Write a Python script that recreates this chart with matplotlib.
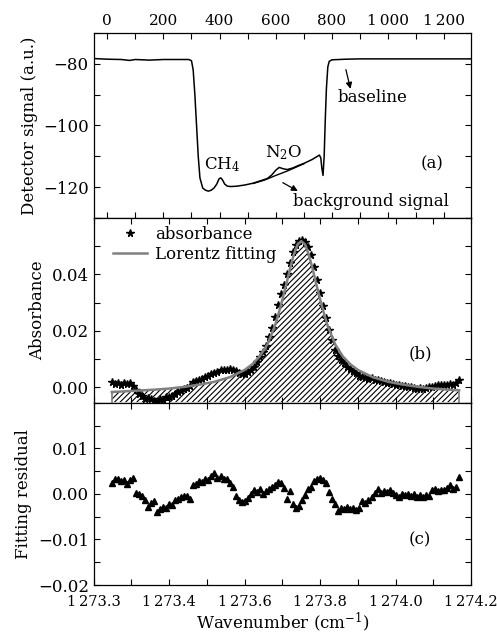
import numpy as np
import matplotlib
matplotlib.use("Agg")
import matplotlib.pyplot as plt
from matplotlib.ticker import FixedLocator, MultipleLocator, FixedFormatter

plt.rcParams['font.family'] = ['DejaVu Serif']
plt.rcParams['mathtext.fontset'] = 'dejavuserif'
plt.rcParams['font.size'] = 12
plt.rcParams['hatch.linewidth'] = 0.8
plt.rcParams['axes.linewidth'] = 0.9

# ---------------- panel (a): detector signal vs sample index ----------------
sig_index = [-45, 0, 50, 80, 100, 150, 200, 250, 290, 300, 306, 312, 318, 324, 330,
             340, 350, 360, 370, 380, 390, 398, 404, 410, 418, 428, 440, 460, 490,
             520, 550, 570, 585, 600, 612, 625, 640, 660, 680, 700, 730, 755, 760,
             764, 768, 772, 776, 780, 785, 790, 800, 850, 900, 1000, 1100, 1200, 1295]
sig_value = [-78.3, -78.5, -78.6, -78.9, -78.6, -78.8, -78.6, -78.6, -78.6, -79.0,
             -82.0, -90.0, -100.0, -110.0, -117.0, -120.3, -121.0, -121.3, -121.0,
             -120.3, -119.0, -117.3, -117.0, -117.6, -119.0, -119.7, -119.8, -119.7,
             -119.3, -118.7, -117.8, -117.2, -116.1, -114.5, -113.6, -114.0, -114.3,
             -113.8, -113.0, -112.3, -111.0, -109.6, -110.5, -114.0, -116.2, -110.0,
             -98.0, -88.0, -81.0, -79.2, -78.7, -78.5, -78.4, -78.4, -78.4, -78.4, -78.4]
bg_index = [520, 560, 600, 640, 680, 700]
bg_value = [-118.8, -117.7, -116.2, -114.8, -113.2, -112.4]

# ---------------- panel (b): absorbance ----------------
wn = np.round(np.arange(1273.248, 1274.1681, 0.008), 3)
absorbance = [0.0018, 0.0012, 0.0016, 0.0010, 0.0014, 0.0011, 0.0017, 0.0005,
              -0.0010, -0.0022, -0.0030, -0.0042, -0.0036, -0.0040, -0.0047, -0.0052,
              -0.0040, -0.0043, -0.0035, -0.0033, -0.0030, -0.0022, -0.0015, -0.0012,
              -0.0006, -0.0002, 0.0005, 0.0020, 0.0022, 0.0026, 0.0030, 0.0036,
              0.0041, 0.0046, 0.0052, 0.0055, 0.0061, 0.0063, 0.0060, 0.0064,
              0.0060, 0.0057, 0.0050, 0.0046, 0.0048, 0.0056, 0.0062, 0.0074,
              0.0090, 0.0108, 0.0124, 0.0148, 0.0178, 0.0210, 0.0250, 0.0292,
              0.0330, 0.0362, 0.0400, 0.0440, 0.0478, 0.0505, 0.0518, 0.0522,
              0.0516, 0.0498, 0.0468, 0.0428, 0.0380, 0.0335, 0.0290, 0.0246,
              0.0205, 0.0168, 0.0132, 0.0112, 0.0098, 0.0085, 0.0074, 0.0066,
              0.0058, 0.0050, 0.0042, 0.0038, 0.0034, 0.0030, 0.0033, 0.0028,
              0.0026, 0.0022, 0.0018, 0.0016, 0.0014, 0.0012, 0.0010, 0.0008,
              0.0006, 0.0004, 0.0002, 0.0000, -0.0001, -0.0004, -0.0002, -0.0005,
              -0.0003, 0.0001, 0.0003, 0.0006, 0.0009, 0.0007, 0.0010, 0.0008,
              0.0012, 0.0009, 0.0015, 0.0028]

fit_wn = [1273.248, 1273.28, 1273.32, 1273.36, 1273.40, 1273.44, 1273.48, 1273.52,
          1273.56, 1273.60, 1273.62, 1273.64, 1273.66, 1273.68, 1273.69, 1273.70,
          1273.71, 1273.72, 1273.73, 1273.74, 1273.75, 1273.76, 1273.77, 1273.78,
          1273.79, 1273.80, 1273.81, 1273.82, 1273.84, 1273.86, 1273.88, 1273.90,
          1273.94, 1273.98, 1274.02, 1274.06, 1274.10, 1274.14, 1274.168]
fit_abs = [-0.0016, -0.0014, -0.0011, -0.0008, -0.0004, 0.0002, 0.0010, 0.0020,
           0.0036, 0.0062, 0.0082, 0.0110, 0.0152, 0.0218, 0.0262, 0.0312,
           0.0364, 0.0420, 0.0470, 0.0506, 0.0518, 0.0506, 0.0470, 0.0420,
           0.0364, 0.0312, 0.0262, 0.0218, 0.0152, 0.0110, 0.0082, 0.0062,
           0.0036, 0.0020, 0.0010, 0.0002, -0.0004, -0.0008, -0.0010]

# ---------------- panel (c): residual ----------------
residual = [0.0024, 0.0033, 0.0034, 0.0028, 0.0030, 0.0022, 0.0030, 0.0036,
            0.0003, 0.0001, -0.0005, -0.0013, -0.0028, -0.0020, -0.0015, -0.0039,
            -0.0033, -0.0028, -0.0030, -0.0022, -0.0024, -0.0014, -0.0010, -0.0007,
            -0.0005, -0.0004, -0.0010, 0.0020, 0.0023, 0.0029, 0.0026, 0.0034,
            0.0031, 0.0040, 0.0046, 0.0036, 0.0039, 0.0032, 0.0033, 0.0025,
            0.0015, -0.0005, -0.0014, -0.0017, -0.0016, -0.0009, 0.0001, 0.0009,
            0.0004, 0.0011, -0.0001, 0.0006, 0.0012, 0.0016, 0.0020, 0.0026,
            0.0024, 0.0013, -0.0010, 0.0007, -0.0022, -0.0031, -0.0027, -0.0014,
            -0.0003, 0.0012, 0.0016, 0.0028, 0.0034, 0.0036, 0.0031, 0.0024,
            0.0005, -0.0012, -0.0022, -0.0038, -0.0030, -0.0032, -0.0028, -0.0033,
            -0.0030, -0.0035, -0.0030, -0.0016, -0.0020, -0.0013, -0.0006, 0.0003,
            0.0011, 0.0002, 0.0007, 0.0004, 0.0008, 0.0002, -0.0003, -0.0007,
            0.0001, -0.0003, -0.0001, -0.0004, -0.0001, -0.0006, -0.0003, -0.0007,
            -0.0002, -0.0004, 0.0008, 0.0012, 0.0006, 0.0009, 0.0008, 0.0013,
            0.0020, 0.0011, 0.0015, 0.0038]

wn_ticks = [1273.2, 1273.4, 1273.6, 1273.8, 1274.0, 1274.2]
wn_ticklabels = ['1\u2009273.3', '1\u2009273.4', '1\u2009273.6', '1\u2009273.8',
                 '1\u2009274.0', '1\u2009274.2']
idx_ticks = [0, 200, 400, 600, 800, 1000, 1200]
idx_ticklabels = ['0', '200', '400', '600', '800', '1\u2009000', '1\u2009200']

fig = plt.figure(figsize=(4.97, 6.43), dpi=100)
L, W = 0.1885, 0.7595
ax_a = fig.add_axes([L, 0.661, W, 0.2877])
ax_b = fig.add_axes([L, 0.3733, W, 0.2877])
ax_c = fig.add_axes([L, 0.0902, W, 0.2831])

tick_kw = dict(direction='in', length=4, width=0.8, top=True, bottom=True,
               left=True, right=True, labelsize=12)
for ax in (ax_a, ax_b, ax_c):
    ax.tick_params(which='both', **tick_kw)

# (a)
ax_a.plot(sig_index, sig_value, color='black', lw=1.1)
ax_a.plot(bg_index, bg_value, color='black', lw=1.0)
ax_a.set_xlim(-48, 1295)
ax_a.set_ylim(-130, -70)
ax_a.xaxis.set_major_locator(FixedLocator(idx_ticks))
ax_a.xaxis.set_major_formatter(FixedFormatter(idx_ticklabels))
ax_a.xaxis.set_minor_locator(MultipleLocator(100))
ax_a.tick_params(axis='x', labeltop=True, labelbottom=False, labelsize=11)
ax_a.yaxis.set_major_locator(FixedLocator([-120, -100, -80]))
ax_a.yaxis.set_minor_locator(MultipleLocator(10))
ax_a.set_ylabel('Detector signal (a.u.)', fontsize=12)
ax_a.text(409, -112.6, 'CH$_4$', ha='center', va='center', fontsize=12)
ax_a.text(627, -108.7, 'N$_2$O', ha='center', va='center', fontsize=12)
ax_a.text(1157, -112.3, '(a)', ha='center', va='center', fontsize=12)
ax_a.annotate('', xy=(868, -89), xytext=(847, -81),
              arrowprops=dict(arrowstyle='-|>', color='black', lw=0.9, mutation_scale=9))
ax_a.text(819, -90.8, 'baseline', ha='left', va='center', fontsize=12)
ax_a.annotate('', xy=(687, -121.7), xytext=(616, -118.1),
              arrowprops=dict(arrowstyle='-|>', color='black', lw=0.9, mutation_scale=9))
ax_a.text(662, -124.6, 'background signal', ha='left', va='center', fontsize=12)

# (b)
b_bottom = -0.0052
ax_b.fill_between(fit_wn, fit_abs, b_bottom, facecolor='white', edgecolor='black',
                  hatch='//////', linewidth=0)
ax_b.plot([fit_wn[0], fit_wn[0]], [b_bottom, fit_abs[0]], color='#808080', lw=1.2)
ax_b.plot([fit_wn[-1], fit_wn[-1]], [b_bottom, fit_abs[-1]], color='#808080', lw=1.2)
ax_b.plot(wn, absorbance, linestyle='none', marker='*', color='black', ms=5.5,
          label='absorbance')
ax_b.plot(fit_wn, fit_abs, color='#808080', lw=1.8, label='Lorentz fitting')
ax_b.set_xlim(1273.2, 1274.2)
ax_b.set_ylim(-0.0055, 0.06)
ax_b.xaxis.set_major_locator(MultipleLocator(0.1))
ax_b.tick_params(axis='x', labelbottom=False)
ax_b.yaxis.set_major_locator(FixedLocator([0.0, 0.02, 0.04]))
ax_b.yaxis.set_major_formatter(FixedFormatter(['0.00', '0.02', '0.04']))
ax_b.yaxis.set_minor_locator(MultipleLocator(0.01))
ax_b.set_ylabel('Absorbance', fontsize=12)
ax_b.text(1274.065, 0.012, '(b)', ha='center', va='center', fontsize=12)
ax_b.legend(loc='upper left', frameon=False, fontsize=12, handlelength=2.0,
            handletextpad=0.5, borderaxespad=0.1, labelspacing=0.15,
            bbox_to_anchor=(0.03, 1.0))

# (c)
ax_c.plot(wn, residual, linestyle='none', marker='^', color='black', ms=4.3)
ax_c.set_xlim(1273.2, 1274.2)
ax_c.set_ylim(-0.02, 0.02)
ax_c.xaxis.set_major_locator(FixedLocator(wn_ticks))
ax_c.xaxis.set_major_formatter(FixedFormatter(wn_ticklabels))
ax_c.xaxis.set_minor_locator(MultipleLocator(0.1))
ax_c.tick_params(axis='x', labelsize=10.5, pad=7)
ax_c.yaxis.set_major_locator(FixedLocator([-0.02, -0.01, 0.0, 0.01]))
ax_c.yaxis.set_major_formatter(FixedFormatter(['\u22120.02', '\u22120.01', '0.00', '0.01']))
ax_c.yaxis.set_minor_locator(MultipleLocator(0.005))
ax_c.set_ylabel('Fitting residual', fontsize=12)
ax_c.set_xlabel('Wavenumber (cm$^{-1}$)', fontsize=12, labelpad=1)
ax_c.text(1274.065, -0.0101, '(c)', ha='center', va='center', fontsize=12)

fig.savefig('out.png', dpi=100)
